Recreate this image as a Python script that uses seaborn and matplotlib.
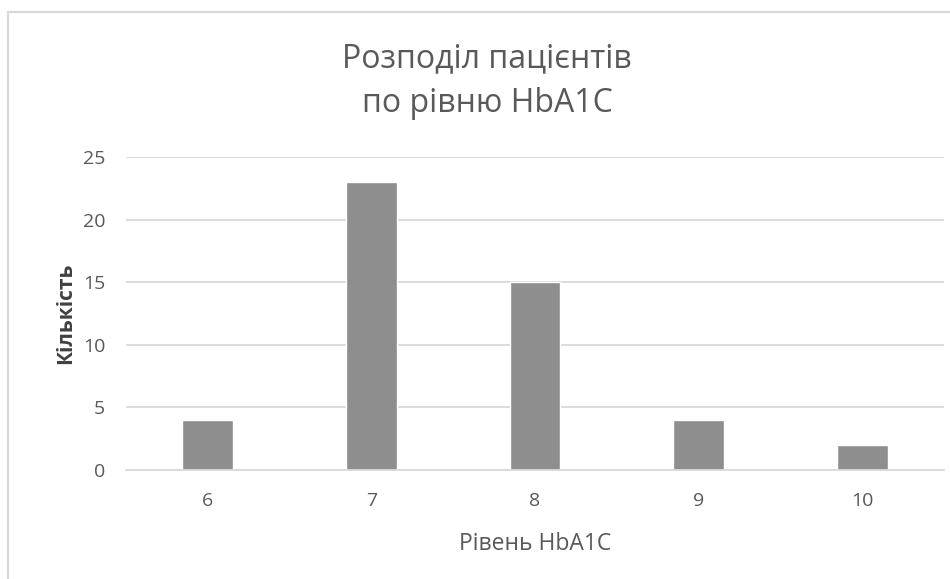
import matplotlib
matplotlib.use("Agg")
import matplotlib.pyplot as plt
from matplotlib.lines import Line2D
import seaborn as sns
import pandas as pd

# HbA1c levels and patient counts
levels = ["6", "7", "8", "9", "10"]
counts = [4, 23, 15, 4, 2]
y_ticks = [0, 5, 10, 15, 20, 25]

title_lines = ["Розподіл пацієнтів", "по рівню HbA1C"]
x_label = "Рівень HbA1C"
y_label = "Кількість"

sns.set_theme(style="white")
plt.rcParams["font.family"] = ["Open Sans", "DejaVu Sans"]

W, H = 950, 579
fig = plt.figure(figsize=(W / 100, H / 100), dpi=100)
ax = fig.add_axes([126 / W, 1 - 470 / H, (944 - 126) / W, (470 - 157) / H])

df = pd.DataFrame({"level": levels, "count": counts})
sns.barplot(data=df, x="level", y="count", color="#8e8e8e", width=0.31,
            saturation=1, ax=ax, zorder=3)

ax.set_xlim(-0.5, len(levels) - 0.5)
ax.set_ylim(0, 25)
ax.set_yticks(y_ticks)
ax.yaxis.grid(True, color="#d9d9d9", linewidth=1.3, zorder=0)
ax.xaxis.grid(False)
for s in ["top", "right", "left"]:
    ax.spines[s].set_visible(False)
ax.spines["bottom"].set_color("#d9d9d9")
ax.spines["bottom"].set_linewidth(1.3)
ax.spines["bottom"].set_zorder(4)

ax.tick_params(axis="both", length=0, labelsize=14, labelcolor="#595959")
ax.tick_params(axis="x", pad=15.5)
ax.tick_params(axis="y", pad=15)

ax.set_xlabel(x_label, fontsize=16.5, color="#595959", labelpad=16)
ax.set_ylabel(y_label, fontsize=15, color="#404040", fontweight="bold",
              labelpad=5)

# two-line chart title, one baseline per line
for line, baseline in zip(title_lines, [67, 112]):
    fig.text(487 / W, 1 - baseline / H, line, ha="center", va="baseline",
             fontsize=23, color="#595959")

# chart-area frame
fig.add_artist(Line2D([8 / W, 1.0], [1 - 12 / H, 1 - 12 / H],
                      color="#d9d9d9", linewidth=1.5))
fig.add_artist(Line2D([8 / W, 8 / W], [0.0, 1 - 12 / H],
                      color="#d9d9d9", linewidth=1.5))

fig.savefig("out.png", dpi=100, facecolor="white")
